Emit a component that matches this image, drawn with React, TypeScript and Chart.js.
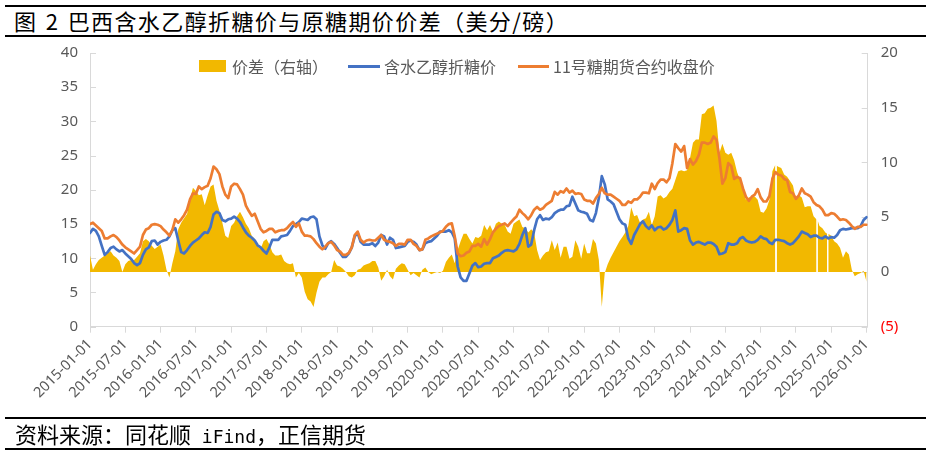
import React, { useEffect, useRef } from "react";
import { Chart, registerables } from "chart.js";

Chart.register(...registerables);

// ---------- categories: twice a month (1st and 16th), 2015-01-01 .. 2026-01-01 ----------
const dates: string[] = Array.from({ length: 265 }, (_, i) => {
  const k = Math.floor(i / 2);
  const y = 2015 + Math.floor(k / 12);
  const m = (k % 12) + 1;
  return `${y}-${String(m).padStart(2, "0")}-${i % 2 ? "16" : "01"}`;
});

const xTickLabels: string[] = [
  "2015-01-01", "2015-07-01", "2016-01-01", "2016-07-01", "2017-01-01", "2017-07-01",
  "2018-01-01", "2018-07-01", "2019-01-01", "2019-07-01", "2020-01-01", "2020-07-01",
  "2021-01-01", "2021-07-01", "2022-01-01", "2022-07-01", "2023-01-01", "2023-07-01",
  "2024-01-01", "2024-07-01", "2025-01-01", "2025-07-01", "2026-01-01",
];

// 11号糖期货合约收盘价 (left axis), one row = 6 months
const sugarFutures: number[] = [
  15.0, 15.2, 14.8, 14.4, 14.0, 12.9, 12.9, 13.2, 13.4, 13.1, 12.6, 12.0,
  11.6, 11.3, 11.0, 10.7, 11.2, 11.7, 13.4, 14.2, 14.4, 14.9, 15.0, 14.9,
  14.7, 14.2, 13.8, 13.3, 14.1, 15.7, 15.2, 15.7, 16.3, 17.1, 18.6, 19.5,
  19.4, 20.5, 20.1, 20.4, 20.6, 21.7, 23.4, 23.0, 22.3, 20.5, 19.3, 18.8,
  20.5, 20.9, 20.8, 20.1, 19.3, 17.7, 16.9, 16.2, 16.5, 15.4, 14.3, 13.8,
  14.0, 14.3, 14.3, 13.8, 14.0, 14.1, 14.1, 14.4, 14.9, 15.3, 14.6, 15.1,
  13.9, 13.3, 13.3, 13.2, 12.8, 12.2, 11.7, 11.3, 11.7, 12.2, 12.4, 11.9,
  11.2, 11.0, 10.5, 10.5, 10.8, 11.6, 13.4, 13.9, 12.7, 12.3, 12.6, 12.7,
  12.6, 12.6, 13.0, 13.4, 12.7, 12.5, 12.4, 12.2, 11.8, 12.1, 12.1, 12.0,
  12.7, 12.7, 12.1, 11.8, 11.2, 11.3, 12.7, 12.9, 13.2, 13.4, 13.6, 13.8,
  14.0, 14.6, 15.0, 15.1, 13.2, 10.7, 10.3, 10.4, 10.8, 11.0, 11.8, 11.8,
  12.1, 11.7, 12.8, 12.0, 12.8, 13.8, 14.3, 14.7, 14.9, 15.1, 14.7, 15.2,
  15.7, 16.1, 17.1, 16.6, 16.2, 15.7, 16.3, 17.1, 17.5, 17.1, 17.3, 17.8,
  18.1, 18.4, 19.7, 19.3, 19.8, 19.6, 20.2, 19.6, 19.9, 19.4, 19.5, 19.4,
  18.6, 18.4, 18.4, 18.0, 18.8, 19.4, 20.3, 19.5, 19.3, 19.3, 19.0, 18.7,
  18.4, 17.8, 17.8, 18.3, 18.1, 18.6, 18.6, 19.0, 19.6, 19.6, 19.5, 20.9,
  20.1, 21.0, 21.5, 21.5, 21.1, 21.7, 23.9, 26.7, 26.1, 25.6, 26.4, 23.2,
  24.5, 23.7, 24.2, 25.1, 26.9, 26.9, 26.7, 26.9, 27.8, 27.3, 24.6, 20.9,
  21.7, 23.9, 23.5, 21.6, 21.9, 21.7, 20.2, 19.0, 18.4, 19.0, 19.3, 20.1,
  18.9, 18.3, 18.3, 19.1, 21.6, 22.6, 22.2, 22.1, 21.6, 21.4, 19.7, 19.5,
  18.7, 19.2, 20.2, 19.5, 19.3, 19.0, 18.2, 17.8, 17.6, 17.1, 16.3, 16.3,
  16.6, 16.5, 16.1, 15.6, 15.7, 15.6, 15.2, 14.7, 14.3, 14.6, 14.6, 14.9,
  14.9,
];

// 含水乙醇折糖价 (left axis)
const ethanolSugar: number[] = [
  13.7, 14.3, 14.0, 13.2, 11.8, 10.5, 10.9, 11.5, 11.7, 11.3, 11.0, 11.2,
  10.7, 10.3, 9.9, 9.3, 9.0, 9.3, 10.5, 11.3, 11.6, 12.5, 12.6, 12.0,
  12.4, 12.6, 12.7, 13.2, 14.1, 14.4, 12.6, 10.9, 10.7, 11.2, 11.8, 12.3,
  12.6, 12.9, 13.4, 13.8, 13.7, 14.6, 16.4, 16.8, 16.6, 15.6, 15.4, 15.7,
  15.8, 16.1, 15.8, 15.3, 14.5, 13.8, 13.3, 13.0, 12.6, 11.9, 11.6, 11.1,
  10.7, 11.6, 12.7, 12.7, 12.7, 13.2, 13.3, 13.4, 14.0, 14.7, 15.0, 15.3,
  15.8, 15.7, 15.6, 16.0, 16.1, 15.7, 13.2, 11.9, 11.4, 12.2, 12.5, 12.1,
  11.5, 10.8, 10.2, 10.2, 10.7, 11.6, 13.2, 13.7, 12.4, 12.0, 12.0, 12.0,
  12.2, 11.8, 12.3, 13.4, 13.2, 12.0, 13.0, 12.7, 11.5, 11.6, 11.7, 11.8,
  12.4, 12.6, 12.4, 12.0, 11.2, 11.3, 12.2, 12.4, 12.5, 12.9, 13.3, 13.9,
  13.9, 13.9, 14.1, 13.8, 12.9, 8.8, 7.2, 6.7, 6.7, 7.8, 8.9, 9.3,
  8.7, 8.8, 9.2, 9.3, 9.3, 10.0, 10.2, 10.4, 10.8, 11.1, 11.2, 11.1,
  11.0, 11.3, 12.1, 13.4, 14.4, 11.7, 12.0, 14.1, 15.7, 16.3, 15.6, 15.8,
  15.7, 16.0, 16.6, 16.9, 17.1, 17.1, 17.6, 17.7, 19.0, 18.0, 17.0, 16.8,
  16.7, 16.5, 15.6, 15.4, 16.6, 18.8, 22.0, 20.8, 18.6, 18.3, 17.9, 16.8,
  15.7, 15.1, 14.9, 12.9, 12.1, 13.4, 14.2, 15.0, 15.4, 14.7, 14.3, 14.8,
  14.1, 14.5, 14.6, 14.2, 14.4, 14.9, 15.6, 17.0, 13.9, 14.1, 14.4, 14.3,
  12.6, 12.0, 12.3, 12.4, 12.2, 12.0, 12.3, 12.3, 12.1, 11.7, 10.6, 10.7,
  10.9, 12.2, 12.0, 12.0, 12.2, 12.9, 13.1, 12.6, 12.4, 12.3, 12.4, 12.7,
  13.2, 12.9, 12.8, 12.3, 12.1, 12.7, 12.7, 12.6, 12.5, 12.2, 12.0, 12.2,
  12.7, 13.2, 13.9, 13.7, 13.5, 13.1, 13.3, 13.3, 13.0, 12.9, 13.2, 12.9,
  13.1, 13.0, 13.4, 14.1, 14.3, 14.2, 14.3, 14.4, 14.4, 14.4, 14.7, 15.6,
  16.0,
];

// 价差（右轴）
const spread: number[] = [
  1.5, 0.2, 0.7, 1.1, 1.3, 1.5, 1.7, 1.9, 1.5, 1.3, 1.0, 0.0,
  0.7, 1.0, 1.1, 1.1, 1.4, 1.7, 2.8, 3.0, 2.8, 2.4, 2.1, 2.3,
  2.5, 1.5, 0.2, -0.5, 0.8, 1.9, 3.9, 4.5, 4.9, 5.3, 6.6, 7.7,
  7.4, 7.0, 7.1, 6.1, 7.0, 7.8, 8.0, 6.5, 5.6, 4.5, 3.3, 3.1,
  4.2, 4.5, 5.1, 5.5, 5.0, 4.4, 4.0, 3.3, 3.0, 2.3, 2.1, 2.8,
  3.0, 2.5, 1.8, 1.5, 1.5, 1.6, 1.0, 0.8, 0.7, 0.8, -0.5, -0.1,
  -0.5, -1.8, -2.5, -2.7, -3.2, -1.9, -0.9, -0.5, -0.5, -0.2, 0.0, 1.1,
  0.6, 0.5, 0.3, 0.0, -0.4, -0.5, -0.3, 0.2, 0.3, 0.6, 0.7, 0.8,
  1.0, 1.0, 0.4, -0.8, -0.4, 0.2, -0.4, -0.7, 0.3, 0.6, 0.8, 0.7,
  0.2, -0.3, -0.1, -0.3, -0.5, 0.2, 0.4, 0.0, -0.2, -0.1, 0.0, -0.1,
  0.1, 0.9, 1.3, 1.6, 0.8, 2.0, 2.8, 3.5, 3.5, 3.0, 2.6, 3.2,
  3.1, 3.3, 4.3, 3.8, 4.3, 3.7, 4.4, 4.6, 4.4, 4.3, 3.7, 3.5,
  4.4, 4.6, 4.8, 4.1, 4.0, 3.6, 3.9, 3.6, 2.0, 1.1, 1.5, 1.8,
  1.9, 2.9, 2.0, 2.7, 1.3, 2.3, 2.3, 1.2, 1.4, 2.9, 2.3, 1.2,
  2.6, 1.7, 1.7, 3.0, 2.6, 1.1, -3.2, -0.1, 0.7, 1.3, 1.8, 2.3,
  2.8, 3.2, 3.6, 4.2, 5.9, 5.1, 5.2, 4.5, 4.8, 4.9, 5.5, 4.3,
  5.1, 6.9, 7.0, 6.7, 6.9, 7.3, 7.6, 8.4, 9.2, 9.3, 9.2, 9.3,
  10.4, 11.8, 12.1, 12.1, 14.4, 14.5, 14.9, 15.0, 15.2, 13.8, 10.9, 11.7,
  10.9, 10.7, 10.9, 10.2, 9.1, 8.4, 7.7, 6.6, 6.8, 6.9, 6.9, 6.6,
  5.5, 5.4, 5.8, 6.6, 9.2, 9.8, 9.6, 9.5, 8.9, 8.7, 8.3, 7.9,
  6.6, 7.0, 6.8, 5.9, 6.0, 6.0, 5.1, 4.8, 4.2, 4.0, 3.6, 3.5,
  3.3, 2.8, 2.6, 2.2, 1.3, 1.9, 1.6, 0.2, -0.4, -0.2, -0.1, 0.1,
  -0.9,
];

// missing readings in the spread series (the thin white breaks in the area)
const spreadExtraDates: string[] = [
  "2024-09-20", "2024-09-23",
  "2025-04-19", "2025-04-22",
  "2025-06-10", "2025-06-13",
];
const spreadExtraValues: (number | null)[] = [
  null, 9.7,
  null, 4.7,
  3.5, null,
];

const LABELS = ["价差（右轴）", "含水乙醇折糖价", "11号糖期货合约收盘价"];
const GOLD = "#F2B800";
const BLUE = "#4472C4";
const ORANGE = "#ED7D31";
const AXIS_GREY = "#D9D9D9";
const TEXT_GREY = "#595959";

function toX(d: string): number {
  const [y, m, day] = d.split("-").map(Number);
  return (y - 2015) * 12 + (m - 1) + (day - 1) / 30;
}

const innerTicks = {
  id: "innerTicks",
  beforeDatasetsDraw(chart: any) {
    const { ctx, chartArea } = chart;
    const ys = chart.scales.y;
    const yr = chart.scales.y1;
    ctx.save();
    ctx.strokeStyle = AXIS_GREY;
    ctx.lineWidth = 1;
    ys.ticks.forEach((t: any) => {
      const p = Math.round(ys.getPixelForValue(t.value)) + 0.5;
      ctx.beginPath();
      ctx.moveTo(chartArea.left, p);
      ctx.lineTo(chartArea.left + 6, p);
      ctx.stroke();
    });
    yr.ticks.forEach((t: any) => {
      const p = Math.round(yr.getPixelForValue(t.value)) + 0.5;
      ctx.beginPath();
      ctx.moveTo(chartArea.right - 6, p);
      ctx.lineTo(chartArea.right, p);
      ctx.stroke();
    });
    ctx.restore();
  },
};

export default function App() {
  const ref = useRef<HTMLCanvasElement>(null);

  useEffect(() => {
    if (!ref.current) return;
    const goldPts = [
      ...dates.map((d, i) => ({ x: toX(d), y: spread[i] as number | null })),
      ...spreadExtraDates.map((d, i) => ({ x: toX(d), y: spreadExtraValues[i] })),
    ].sort((a, b) => a.x - b.x);
    const bluePts = dates.map((d, i) => ({ x: toX(d), y: ethanolSugar[i] }));
    const orangePts = dates.map((d, i) => ({ x: toX(d), y: sugarFutures[i] }));

    const chart = new Chart(ref.current, {
      type: "line",
      data: {
        datasets: [
          {
            label: LABELS[0],
            data: goldPts as any,
            yAxisID: "y1",
            borderWidth: 0,
            borderColor: "rgba(0,0,0,0)",
            backgroundColor: GOLD,
            fill: "origin",
            pointRadius: 0,
            spanGaps: false,
            order: 2,
          },
          {
            label: LABELS[1],
            data: bluePts,
            yAxisID: "y",
            borderColor: BLUE,
            backgroundColor: BLUE,
            borderWidth: 2.7,
            borderJoinStyle: "round",
            borderCapStyle: "round",
            pointRadius: 0,
            fill: false,
            order: 1,
          },
          {
            label: LABELS[2],
            data: orangePts,
            yAxisID: "y",
            borderColor: ORANGE,
            backgroundColor: ORANGE,
            borderWidth: 2.7,
            borderJoinStyle: "round",
            borderCapStyle: "round",
            pointRadius: 0,
            fill: false,
            order: 0,
          },
        ],
      },
      options: {
        responsive: false,
        animation: false,
        events: [],
        layout: { padding: { top: 53, left: 0, right: 0, bottom: 0 } },
        plugins: {
          legend: { display: false },
          tooltip: { enabled: false },
          title: { display: false },
        },
        scales: {
          x: {
            type: "linear",
            min: 0,
            max: 132.2,
            afterFit: (s: any) => {
              s.height = 130.3;
            },
            ticks: {
              stepSize: 6,
              autoSkip: false,
              includeBounds: false,
              minRotation: 45,
              maxRotation: 45,
              padding: 3,
              color: TEXT_GREY,
              font: { family: "'Noto Sans', sans-serif", size: 14.5 },
              callback: (v: any) => {
                const idx = Math.round(Number(v) / 6);
                return xTickLabels[idx] ?? "";
              },
            },
            grid: {
              drawOnChartArea: false,
              drawTicks: true,
              tickLength: 6,
              color: AXIS_GREY,
            },
            border: { display: true, color: AXIS_GREY, width: 1 },
          },
          y: {
            position: "left",
            min: 0,
            max: 40,
            afterFit: (s: any) => {
              s.width = 90;
            },
            ticks: {
              stepSize: 5,
              padding: 12,
              color: TEXT_GREY,
              font: { family: "'Noto Sans', sans-serif", size: 15 },
            },
            grid: { drawOnChartArea: false, drawTicks: false, color: AXIS_GREY },
            border: { display: true, color: AXIS_GREY, width: 1 },
          },
          y1: {
            position: "right",
            min: -5,
            max: 20,
            afterFit: (s: any) => {
              s.width = 61.3;
            },
            ticks: {
              stepSize: 5,
              padding: 13,
              color: (c: any) => (c.tick && c.tick.value < 0 ? "#FF0000" : TEXT_GREY),
              font: { family: "'Noto Sans', sans-serif", size: 15 },
              callback: (v: any) => (Number(v) < 0 ? `(${Math.abs(Number(v))})` : String(v)),
            },
            grid: { drawOnChartArea: false, drawTicks: false, color: AXIS_GREY },
            border: { display: true, color: AXIS_GREY, width: 1 },
          },
        },
      },
      plugins: [innerTicks],
    });
    return () => chart.destroy();
  }, []);

  const cjk = "'Noto Sans CJK SC', 'Noto Sans', sans-serif";
  const legendText: React.CSSProperties = {
    position: "absolute",
    top: 56,
    fontFamily: cjk,
    fontSize: 16,
    lineHeight: "20px",
    color: TEXT_GREY,
    whiteSpace: "nowrap",
  };

  return (
    <div
      style={{
        position: "absolute",
        left: 0,
        top: 0,
        width: 929,
        height: 457,
        background: "#fff",
        overflow: "hidden",
      }}
    >
      {/* title */}
      <div style={{ position: "absolute", left: 5, right: 3, top: 5, height: 2, background: "#000" }} />
      <div
        style={{
          position: "absolute",
          left: 14,
          top: 5,
          fontFamily: cjk,
          fontSize: 22,
          letterSpacing: 1.4,
          wordSpacing: 2,
          lineHeight: "30px",
          color: "#000",
          whiteSpace: "nowrap",
        }}
      >
        图 2 巴西含水乙醇折糖价与原糖期价价差（美分/磅）
      </div>
      <div style={{ position: "absolute", left: 5, right: 3, top: 35, height: 2, background: "#000" }} />

      <canvas
        ref={ref}
        width={929}
        height={457}
        style={{ position: "absolute", left: 0, top: 0, width: 929, height: 457 }}
      />

      {/* legend */}
      <div style={{ position: "absolute", left: 199, top: 60, width: 27, height: 12, background: GOLD }} />
      <div style={{ ...legendText, left: 232 }}>{LABELS[0]}</div>
      <div style={{ position: "absolute", left: 348, top: 65, width: 32, height: 3, background: BLUE }} />
      <div style={{ ...legendText, left: 384 }}>{LABELS[1]}</div>
      <div style={{ position: "absolute", left: 518, top: 65, width: 31, height: 3, background: ORANGE }} />
      <div style={{ ...legendText, left: 553 }}>{LABELS[2]}</div>

      {/* footer */}
      <div style={{ position: "absolute", left: 5, right: 3, top: 417, height: 2, background: "#000" }} />
      <div
        style={{
          position: "absolute",
          left: 15,
          top: 419,
          fontFamily: cjk,
          fontSize: 22,
          lineHeight: "29px",
          color: "#000",
          whiteSpace: "nowrap",
        }}
      >
        资料来源：同花顺
        <span style={{ fontFamily: "'DejaVu Sans Mono', 'Liberation Mono', monospace", fontSize: 18 }}> iFind</span>
        ，正信期货
      </div>
      <div style={{ position: "absolute", left: 5, right: 3, top: 448, height: 2, background: "#000" }} />
    </div>
  );
}
